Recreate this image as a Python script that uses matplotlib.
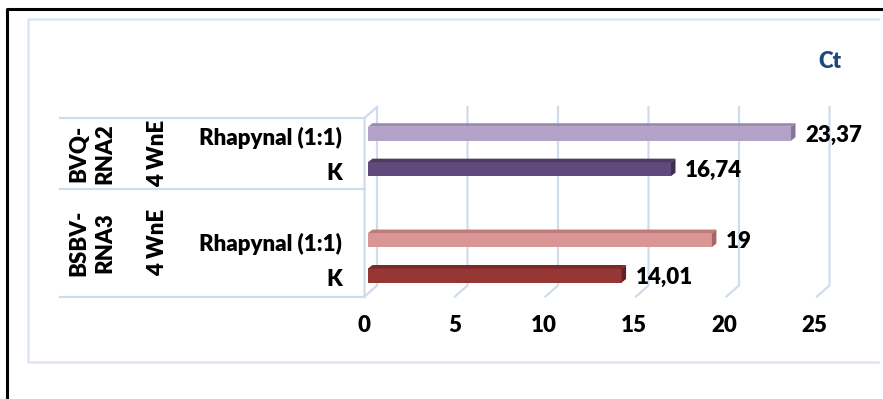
import matplotlib
matplotlib.use("Agg")
import matplotlib.pyplot as plt
from matplotlib.patches import Polygon
import matplotlib.transforms as mtransforms

plt.rcParams['font.family'] = ['Lato', 'DejaVu Sans']
plt.rcParams['font.weight'] = 'heavy'

# data
groups = ["BVQ-\nRNA2", "BSBV-\nRNA3"]
timepoints = ["4 WnE", "4 WnE"]
treatments = ["Rhapynal (1:1)", "K", "Rhapynal (1:1)", "K"]
ct_values = [23.37, 16.74, 19, 14.01]
x_ticks = [0, 5, 10, 15, 20, 25]

bar_pos = [0, 1, 3, 4]
face_cols = ["#B3A2C7", "#604A7B", "#D99694", "#953735"]
top_cols = ["#9A89B0", "#4C3A63", "#BE7B79", "#7A2B29"]
end_cols = ["#857596", "#3E2F52", "#A86664", "#65211F"]

W, H = 883, 399
fs = 16
fig = plt.figure(figsize=(W / 100, H / 100), dpi=100)

# background axes in pixel units for frames and table
bg = fig.add_axes([0, 0, 1, 1])
bg.set_xlim(0, W)
bg.set_ylim(H, 0)
bg.axis('off')

# outer black frame and inner light frame
bg.plot([7, 7, W + 5], [H + 5, 9, 9], color='black', lw=2.2, solid_capstyle='butt')
bg.plot([878, 28, 28, 878], [19, 19, 362, 362], color='#DCE6F2', lw=1.8)

# bar axes: x in Ct units, y in category slots
x0px, x25px = 368, 820.5
ytop_px, ybot_px = 118, 296.5
unit = 35.45
y_first = 133.7
ax = fig.add_axes([x0px / W, (H - ybot_px) / H, (x25px - x0px) / W, (ybot_px - ytop_px) / H])
ax.set_xlim(0, 25)
y_lo = (ybot_px - y_first) / unit
y_hi = (ytop_px - y_first) / unit
ax.set_ylim(y_lo, y_hi)
ax.axis('off')

pxx = 25 / (x25px - x0px)   # data units per pixel, x
pxy = 1 / unit              # data units per pixel, y

# walls: front plane and back plane offsets
fx = -3.5 * pxx
bx, by = 9 * pxx, -11 * pxy
grid_col = '#D0DCEC'
for v in x_ticks:
    ax.plot([v + bx, v + bx, v + fx], [y_hi + by, y_lo + by, y_lo],
            color=grid_col, lw=1.6, clip_on=False)
ax.plot([bx, fx, fx], [y_hi + by, y_hi, y_lo], color=grid_col, lw=1.6, clip_on=False)

# category table on the left
mix = mtransforms.blended_transform_factory(bg.transData, ax.transData)
y_mid = (189 - y_first) / unit
bounds = [y_hi, y_mid, y_lo]
for yb in bounds:
    ax.plot([60, 364.5], [yb, yb], color=grid_col, lw=1.6, transform=mix, clip_on=False)

for i in range(len(groups)):
    yc = (bounds[i] + bounds[i + 1]) / 2
    bg.text(92, yc, groups[i], transform=mix, rotation=90, ha='center', va='center',
            fontsize=fs, linespacing=1.3, color='black')
    bg.text(158, yc, timepoints[i], transform=mix, rotation=90, ha='center', va='center',
            fontsize=fs, color='black')

for p, t in zip(bar_pos, treatments):
    bg.text(342, p + 0.11, t, transform=mix, ha='right', va='center', fontsize=fs, color='black')

# 3d-looking bars
bh = 0.395
ddx, ddy = 4.5 * pxx, -3.5 * pxy
ax.barh(bar_pos, ct_values, height=bh, left=0, color=face_cols, clip_on=False, zorder=3)
for p, v, tc, ec in zip(bar_pos, ct_values, top_cols, end_cols):
    yt, yb = p - bh / 2, p + bh / 2
    ax.add_patch(Polygon([(0, yt), (v, yt), (v + ddx, yt + ddy), (ddx, yt + ddy)],
                         closed=True, facecolor=tc, edgecolor='none', clip_on=False, zorder=3))
    ax.add_patch(Polygon([(v, yt), (v + ddx, yt + ddy), (v + ddx, yb + ddy), (v, yb)],
                         closed=True, facecolor=ec, edgecolor='none', clip_on=False, zorder=3))
    label = f"{v:g}".replace('.', ',')
    ax.text(v + 14 * pxx, p + 0.04, label, ha='left', va='center', fontsize=fs,
            color='black', clip_on=False)

# x tick labels
for v in x_ticks:
    ax.text(v - 3.5 * pxx - v * 0.12 * pxx, (325 - y_first) / unit, str(v), ha='center',
            va='center', fontsize=fs, color='black', clip_on=False)

bg.text(830, 62, "Ct", ha='center', va='center', fontsize=fs, color='#1F497D')

fig.savefig("out.png", dpi=100)
